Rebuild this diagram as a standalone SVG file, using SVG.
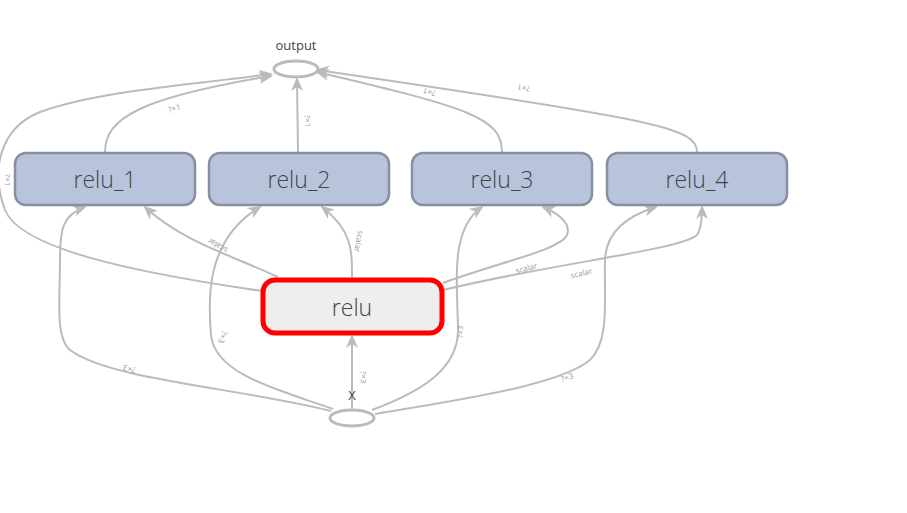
<svg xmlns="http://www.w3.org/2000/svg" width="907" height="513" viewBox="0 0 907 513">
<defs>
<marker id="arr" markerWidth="14" markerHeight="14" refX="12" refY="6" orient="auto" markerUnits="userSpaceOnUse" viewBox="0 0 14 12">
<path d="M0,0 L14,6 L0,12 L4,6 z" fill="#bbb"/>
</marker>
<style>
.e{fill:none;stroke:#bbb;stroke-width:2;marker-end:url(#arr)}
.l{font-family:"Open Sans","Liberation Sans",sans-serif;font-size:8px;fill:#999;text-anchor:middle}
.n{fill:#b8c4db;stroke:#8790a0;stroke-width:2.5}
.t{font-family:"Open Sans","Liberation Sans",sans-serif;font-size:23px;fill:#444;text-anchor:middle;font-weight:300}
.o{fill:#fff;stroke:#bbb;stroke-width:3}
.s{font-family:"Open Sans","Liberation Sans",sans-serif;font-size:13px;fill:#444;text-anchor:middle}
</style>
</defs>
<rect width="907" height="513" fill="#fff"/>
<g id="connectors">
<path class="e" d="M352,410 L352,336"/>
<path class="e" d="M331,411 C240,388 110,380 70,350 C55,338 60,300 60,260 C60,230 62,215 85,207"/>
<path class="e" d="M333,409 C280,390 215,375 211,335 C208,300 205,240 260,207"/>
<path class="e" d="M372,410 C420,392 458,370 458,330 C458,290 448,230 482,207"/>
<path class="e" d="M375,414 C460,400 560,385 590,360 C610,340 604,300 605,260 C606,230 630,215 656,207"/>
<path class="e" d="M278,277 C230,255 180,240 145,207"/>
<path class="e" d="M352,277 C352,250 352,230 322,207"/>
<path class="e" d="M443,283 C500,262 560,250 567,235 C572,222 555,212 543,207"/>
<path class="e" d="M443,290 C560,262 680,250 697,235 C702,228 702,215 702,207"/>
<path class="e" d="M262,291 C130,272 20,248 5,210 C-10,170 0,128 40,112 C100,90 200,84 271,74"/>
<path class="e" d="M105,152 C105,118 140,98 271,76"/>
<path class="e" d="M298,152 L297,79"/>
<path class="e" d="M502,152 C502,118 470,108 317,72"/>
<path class="e" d="M697,152 C697,128 660,120 317,70"/>
</g>
<g id="edge-labels">
<text class="l" transform="translate(361,377) rotate(90)">?×3</text>
<text class="l" transform="translate(130,366) rotate(195)">?×3</text>
<text class="l" transform="translate(220,336) rotate(110)">?×3</text>
<text class="l" transform="translate(463,332) rotate(-90)">?×3</text>
<text class="l" transform="translate(568,380) rotate(-20)">?×3</text>
<text class="l" transform="translate(219,243) rotate(210)">scalar</text>
<text class="l" transform="translate(356,241) rotate(100)">scalar</text>
<text class="l" transform="translate(527,271) rotate(-15)">scalar</text>
<text class="l" transform="translate(582,276) rotate(-13)">scalar</text>
<text class="l" transform="translate(5,180) rotate(90)">?×1</text>
<text class="l" transform="translate(175,111) rotate(-15)">?×1</text>
<text class="l" transform="translate(305,121) rotate(90)">?×1</text>
<text class="l" transform="translate(430,89) rotate(195)">?×1</text>
<text class="l" transform="translate(524,85) rotate(188)">?×1</text>
</g>
<g id="output">
<ellipse class="o" cx="296" cy="69" rx="22" ry="8"/>
<text class="s" x="296" y="50">output</text>
</g>
<g id="X">
<ellipse class="o" cx="352" cy="418" rx="22" ry="8"/>
<text class="s" x="352" y="400">X</text>
</g>
<g id="relu_1">
<rect class="n" x="15" y="153" width="180" height="52" rx="11"/>
<text class="t" x="105" y="188">relu_1</text>
</g>
<g id="relu_2">
<rect class="n" x="209" y="153" width="180" height="52" rx="11"/>
<text class="t" x="299" y="188">relu_2</text>
</g>
<g id="relu_3">
<rect class="n" x="412" y="153" width="180" height="52" rx="11"/>
<text class="t" x="502" y="188">relu_3</text>
</g>
<g id="relu_4">
<rect class="n" x="607" y="153" width="180" height="52" rx="11"/>
<text class="t" x="697" y="188">relu_4</text>
</g>
<g id="relu">
<rect x="263" y="280" width="179" height="53" rx="12" fill="#eee" stroke="#f00" stroke-width="5"/>
<text class="t" x="352" y="316">relu</text>
</g>
</svg>
